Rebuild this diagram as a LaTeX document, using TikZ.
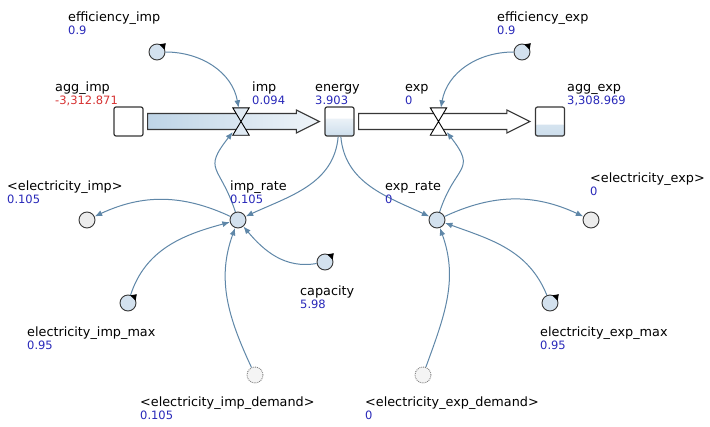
\documentclass[tikz,border=0pt]{standalone}
\usepackage{fontspec}
\setmainfont{DejaVu Sans}
\usetikzlibrary{arrows.meta}
\definecolor{linkc}{RGB}{95,135,168}
\definecolor{valblue}{RGB}{40,40,185}
\definecolor{valred}{RGB}{215,50,50}
\definecolor{auxfill}{RGB}{211,225,238}
\definecolor{shadfill}{RGB}{236,236,236}
\definecolor{pipeblue}{RGB}{190,212,230}
\definecolor{stockfill}{RGB}{205,222,236}
\definecolor{edge}{RGB}{55,55,55}
\newcommand\lab[6][valblue]{%
  \node[namestyle] (#2) at (#3,-#4) {#5};
  \node[valstyle,text=#1] (#2v) at (#3,-#4-13.5) {#6};}
\newcommand\pmark[1]{\fill[black] ([shift={(8.8,8.8)}]#1.center) -- ([shift={(2.2,7.6)}]#1.center) -- ([shift={(7.6,2.2)}]#1.center) -- cycle;}
\begin{document}
\begin{tikzpicture}[x=1pt,y=1pt,
  namestyle/.style={anchor=base west,inner sep=0pt,font=\fontsize{12.8}{14}\selectfont},
  valstyle/.style={anchor=base west,inner sep=0pt,font=\fontsize{11.5}{13}\selectfont},
  link/.style={draw=linkc,line width=1pt,-{Latex[length=7.5pt,width=6pt]}},
  aux/.style={circle,draw=edge,line width=0.9pt,fill=auxfill,minimum size=16pt,inner sep=0pt},
  shad/.style={circle,draw=edge,line width=0.9pt,fill=shadfill,minimum size=16pt,inner sep=0pt},
  ghost/.style={circle,draw=gray,densely dotted,line width=0.9pt,fill=shadfill!60,minimum size=16pt,inner sep=0pt},
  stockbox/.style={draw=edge,line width=1.2pt,rounded corners=2pt,minimum size=29pt,inner sep=0pt,fill=white},
  valvebox/.style={minimum width=16pt,minimum height=27pt,inner sep=0pt},
  valveshape/.style={draw=black,line width=0.9pt,fill=auxfill!70},
  pipe/.style={draw=edge,line width=1.1pt,line join=miter}
]
\useasboundingbox[fill=white] (0,0) rectangle (710,-426);

% stocks
\node[stockbox] (aggimp) at (128.5,-121.5) {};
\node[stockbox,path picture={\fill[top color=white,bottom color=stockfill] ([yshift=3pt]path picture bounding box.west) rectangle (path picture bounding box.south east);}] (energy) at (339.5,-121.5) {};
\node[stockbox,path picture={\fill[top color=stockfill!60,bottom color=stockfill] ([yshift=-3pt]path picture bounding box.west) rectangle (path picture bounding box.south east);}] (aggexp) at (550,-121.5) {};

% pipes
\draw[pipe,left color=pipeblue,right color=pipeblue!25]
  ([xshift=4pt,yshift=8pt]aggimp.east) -- ([xshift=-28pt,yshift=8pt]energy.west)
  -- ([xshift=-28pt,yshift=11.5pt]energy.west) -- ([xshift=-5pt]energy.west)
  -- ([xshift=-28pt,yshift=-11.5pt]energy.west) -- ([xshift=-28pt,yshift=-8pt]energy.west)
  -- ([xshift=4pt,yshift=-8pt]aggimp.east) -- cycle;
\draw[pipe,fill=white]
  ([xshift=4pt,yshift=8pt]energy.east) -- ([xshift=-28pt,yshift=8pt]aggexp.west)
  -- ([xshift=-28pt,yshift=11.5pt]aggexp.west) -- ([xshift=-5pt]aggexp.west)
  -- ([xshift=-28pt,yshift=-11.5pt]aggexp.west) -- ([xshift=-28pt,yshift=-8pt]aggexp.west)
  -- ([xshift=4pt,yshift=-8pt]energy.east) -- cycle;

% valves
\node[valvebox] (impv) at (241,-121.5) {};
\node[valvebox] (expv) at (438.5,-121.5) {};
\draw[valveshape] (impv.north west) -- (impv.north east) -- (impv.south west) -- (impv.south east) -- cycle;
\draw[valveshape,fill=white] (expv.north west) -- (expv.north east) -- (expv.south west) -- (expv.south east) -- cycle;

% variables
\node[aux] (effimp) at (157,-52) {};
\node[aux] (effexp) at (522,-52) {};
\node[aux] (imprate) at (238,-220) {};
\node[aux] (exprate) at (437,-220) {};
\node[shad] (eimp) at (87,-220) {};
\node[shad] (eexp) at (591,-220) {};
\node[aux] (cap) at (325,-262) {};
\node[aux] (eimpmax) at (128,-303) {};
\node[aux] (eexpmax) at (550,-303) {};
\node[ghost] (impdem) at (255,-375) {};
\node[ghost] (expdem) at (423,-375) {};
\pmark{effimp}\pmark{effexp}\pmark{cap}\pmark{eimpmax}\pmark{eexpmax}

% connectors
\draw[link] (effimp) to[out=0,in=100] (impv);
\draw[link] (effexp) to[out=180,in=80] (expv);
\draw[link] (imprate) to[out=108,in=232,looseness=1.6] (impv);
\draw[link] (exprate) to[out=72,in=-52,looseness=1.6] (expv);
\draw[link] (energy) to[out=265,in=25] (imprate);
\draw[link] (energy) to[out=275,in=155] (exprate);
\draw[link] (imprate) to[out=155,in=25] (eimp);
\draw[link] (exprate) to[out=25,in=155] (eexp);
\draw[link] (eimpmax) to[out=72,in=195] (imprate);
\draw[link] (eexpmax) to[out=112,in=-20] (exprate);
\draw[link] (impdem) to[out=115,in=250] (imprate);
\draw[link] (expdem) to[out=70,in=-70] (exprate);
\draw[link] (cap) to[out=190,in=-50] (imprate);

% labels
\lab{leffimp}{68}{21}{efficiency\_imp}{0.9}
\lab{leffexp}{497}{21}{efficiency\_exp}{0.9}
\lab[valred]{laggimp}{55}{91}{agg\_imp}{-3,312.871}
\lab{limp}{252}{91}{imp}{0.094}
\lab{lenergy}{315}{91}{energy}{3.903}
\lab{lexp}{405}{91}{exp}{0}
\lab{laggexp}{567}{91}{agg\_exp}{3,308.969}
\lab{leimp}{7}{190}{<electricity\_imp>}{0.105}
\lab{limprate}{230}{190}{imp\_rate}{0.105}
\lab{lexprate}{385}{190}{exp\_rate}{0}
\lab{leexp}{590}{182}{<electricity\_exp>}{0}
\lab{lcap}{300}{295}{capacity}{5.98}
\lab{leimpmax}{27}{336}{electricity\_imp\_max}{0.95}
\lab{leexpmax}{540}{336}{electricity\_exp\_max}{0.95}
\lab{limpdem}{140}{406}{<electricity\_imp\_demand>}{0.105}
\lab{lexpdem}{365}{406}{<electricity\_exp\_demand>}{0}
\end{tikzpicture}
\end{document}
